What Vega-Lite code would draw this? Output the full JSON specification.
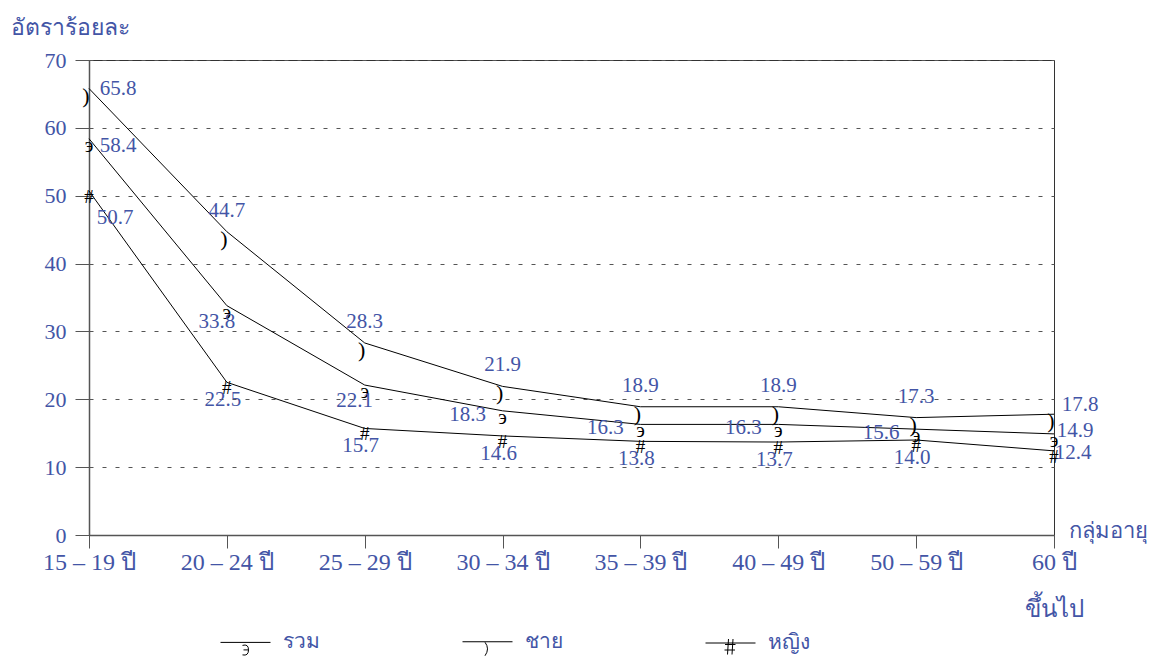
{
  "$schema": "https://vega.github.io/schema/vega-lite/v6.json",
  "autosize": "none",
  "padding": {"left": 89, "top": 60, "right": 110, "bottom": 122},
  "width": 965,
  "height": 475,
  "background": "white",
  "data": {
    "values": [
      {"age": "15 – 19 ปี", "sex": "รวม", "value": 58.4},
      {"age": "20 – 24 ปี", "sex": "รวม", "value": 33.8},
      {"age": "25 – 29 ปี", "sex": "รวม", "value": 22.1},
      {"age": "30 – 34 ปี", "sex": "รวม", "value": 18.3},
      {"age": "35 – 39 ปี", "sex": "รวม", "value": 16.3},
      {"age": "40 – 49 ปี", "sex": "รวม", "value": 16.3},
      {"age": "50 – 59 ปี", "sex": "รวม", "value": 15.6},
      {"age": "60 ปี", "sex": "รวม", "value": 14.9},
      {"age": "15 – 19 ปี", "sex": "ชาย", "value": 65.8},
      {"age": "20 – 24 ปี", "sex": "ชาย", "value": 44.7},
      {"age": "25 – 29 ปี", "sex": "ชาย", "value": 28.3},
      {"age": "30 – 34 ปี", "sex": "ชาย", "value": 21.9},
      {"age": "35 – 39 ปี", "sex": "ชาย", "value": 18.9},
      {"age": "40 – 49 ปี", "sex": "ชาย", "value": 18.9},
      {"age": "50 – 59 ปี", "sex": "ชาย", "value": 17.3},
      {"age": "60 ปี", "sex": "ชาย", "value": 17.8},
      {"age": "15 – 19 ปี", "sex": "หญิง", "value": 50.7},
      {"age": "20 – 24 ปี", "sex": "หญิง", "value": 22.5},
      {"age": "25 – 29 ปี", "sex": "หญิง", "value": 15.7},
      {"age": "30 – 34 ปี", "sex": "หญิง", "value": 14.6},
      {"age": "35 – 39 ปี", "sex": "หญิง", "value": 13.8},
      {"age": "40 – 49 ปี", "sex": "หญิง", "value": 13.7},
      {"age": "50 – 59 ปี", "sex": "หญิง", "value": 14.0},
      {"age": "60 ปี", "sex": "หญิง", "value": 12.4}
    ]
  },
  "encoding": {
    "x": {
      "field": "age", "type": "ordinal", "sort": null,
      "scale": {"type": "point", "padding": 0},
      "axis": {
        "labelAngle": 0, "tickSize": 13, "labelPadding": 2, "labelFontSize": 24,
        "labelColor": "#4355A6", "labelFont": "Liberation Serif", "labelLineHeight": 47,
        "labelExpr": "datum.value == '60 ปี' ? ['60 ปี', 'ขึ้นไป'] : datum.label",
        "domainColor": "#555", "domainWidth": 1.5, "tickColor": "#555", "grid": false,
        "title": "กลุ่มอายุ", "titleX": 979, "titleY": -5, "titleAlign": "left", "titleBaseline": "middle",
        "titleFontSize": 22, "titleFontWeight": "normal", "titleColor": "#4355A6", "titleFont": "Liberation Serif"
      }
    },
    "y": {
      "field": "value", "type": "quantitative",
      "scale": {"domain": [0, 70], "nice": false},
      "axis": {
        "values": [0, 10, 20, 30, 40, 50, 60, 70], "tickSize": 14, "labelPadding": 9,
        "labelFontSize": 22, "labelColor": "#4355A6", "labelFont": "Liberation Serif",
        "domainColor": "#555", "domainWidth": 1.5, "tickColor": "#555",
        "grid": true, "gridDash": [4, 9], "gridColor": "#555",
        "title": "อัตราร้อยละ", "titleAngle": 0, "titleX": -79, "titleY": -33, "titleAlign": "left",
        "titleBaseline": "middle", "titleFontSize": 23, "titleFontWeight": "normal",
        "titleColor": "#4355A6", "titleFont": "Liberation Serif"
      }
    }
  },
  "layer": [
    {
      "mark": {"type": "line", "color": "black", "strokeWidth": 1},
      "encoding": {"detail": {"field": "sex"}}
    },
    {
      "mark": {"type": "point", "filled": false, "color": "black", "opacity": 0, "size": 2500, "strokeWidth": 1},
      "encoding": {
        "shape": {
          "field": "sex", "type": "nominal",
          "scale": {
            "domain": ["รวม", "ชาย", "หญิง"],
            "range": [
              "M-1,0H1M-0.12,0.12Q0.12,0.05 0.12,0.3Q0.12,0.55 -0.12,0.5M-0.08,0.3H0.12",
              "M-1,0H1M-0.1,0.02Q0.1,0.28 -0.1,0.56",
              "M-1,0H1M-0.08,-0.16L-0.12,0.46M0.1,-0.16L0.06,0.46M-0.22,0.06H0.2M-0.24,0.28H0.18"
            ]
          },
          "legend": {
            "title": null, "orient": "none", "direction": "horizontal",
            "legendX": 131, "legendY": 556, "padding": 0,
            "symbolOpacity": 1, "symbolSize": 2500, "symbolStrokeColor": "black", "symbolStrokeWidth": 1,
            "symbolFillColor": "transparent",
            "labelOffset": 12, "columnPadding": 140, "labelFontSize": 21, "labelColor": "#4355A6",
            "labelFont": "Liberation Serif", "labelLimit": 200
          }
        }
      }
    },
    {
      "transform": [{"filter": "datum.sex == 'รวม'"}],
      "mark": {"type": "text", "text": "э", "dy": 7, "fontSize": 20, "font": "Liberation Serif", "color": "black"}
    },
    {
      "transform": [{"filter": "datum.sex == 'ชาย'"}],
      "mark": {"type": "text", "text": ")", "dx": -3, "dy": 7, "fontSize": 22, "font": "Liberation Serif", "color": "black"}
    },
    {
      "transform": [{"filter": "datum.sex == 'หญิง'"}],
      "mark": {"type": "text", "text": "#", "dy": 6, "fontSize": 19, "font": "Liberation Serif", "color": "black"}
    },
    {
      "transform": [{"filter": "datum.sex == 'ชาย' && datum.age == '15 – 19 ปี'"}],
      "mark": {"type": "text", "dx": 29, "dy": 0, "fontSize": 21, "font": "Liberation Serif", "color": "#4355A6"},
      "encoding": {"text": {"field": "value", "format": ".1f"}}
    },
    {
      "transform": [{"filter": "datum.sex == 'ชาย' && datum.age != '15 – 19 ปี' && datum.age != '60 ปี'"}],
      "mark": {"type": "text", "dx": 0, "dy": -21, "fontSize": 21, "font": "Liberation Serif", "color": "#4355A6"},
      "encoding": {"text": {"field": "value", "format": ".1f"}}
    },
    {
      "transform": [{"filter": "datum.sex == 'ชาย' && datum.age == '60 ปี'"}],
      "mark": {"type": "text", "dx": 26, "dy": -9, "fontSize": 21, "font": "Liberation Serif", "color": "#4355A6"},
      "encoding": {"text": {"field": "value", "format": ".1f"}}
    },
    {
      "transform": [{"filter": "datum.sex == 'รวม' && datum.age == '15 – 19 ปี'"}],
      "mark": {"type": "text", "dx": 29, "dy": 7, "fontSize": 21, "font": "Liberation Serif", "color": "#4355A6"},
      "encoding": {"text": {"field": "value", "format": ".1f"}}
    },
    {
      "transform": [{"filter": "datum.sex == 'รวม' && (datum.age == '20 – 24 ปี' || datum.age == '25 – 29 ปี')"}],
      "mark": {"type": "text", "dx": -10, "dy": 16, "fontSize": 21, "font": "Liberation Serif", "color": "#4355A6"},
      "encoding": {"text": {"field": "value", "format": ".1f"}}
    },
    {
      "transform": [{"filter": "datum.sex == 'รวม' && (datum.age == '30 – 34 ปี' || datum.age == '35 – 39 ปี' || datum.age == '40 – 49 ปี' || datum.age == '50 – 59 ปี')"}],
      "mark": {"type": "text", "dx": -35, "dy": 4, "fontSize": 21, "font": "Liberation Serif", "color": "#4355A6"},
      "encoding": {"text": {"field": "value", "format": ".1f"}}
    },
    {
      "transform": [{"filter": "datum.sex == 'รวม' && datum.age == '60 ปี'"}],
      "mark": {"type": "text", "dx": 21, "dy": -3, "fontSize": 21, "font": "Liberation Serif", "color": "#4355A6"},
      "encoding": {"text": {"field": "value", "format": ".1f"}}
    },
    {
      "transform": [{"filter": "datum.sex == 'หญิง' && datum.age == '15 – 19 ปี'"}],
      "mark": {"type": "text", "dx": 26, "dy": 27, "fontSize": 21, "font": "Liberation Serif", "color": "#4355A6"},
      "encoding": {"text": {"field": "value", "format": ".1f"}}
    },
    {
      "transform": [{"filter": "datum.sex == 'หญิง' && datum.age != '15 – 19 ปี' && datum.age != '60 ปี'"}],
      "mark": {"type": "text", "dx": -4, "dy": 18, "fontSize": 21, "font": "Liberation Serif", "color": "#4355A6"},
      "encoding": {"text": {"field": "value", "format": ".1f"}}
    },
    {
      "transform": [{"filter": "datum.sex == 'หญิง' && datum.age == '60 ปี'"}],
      "mark": {"type": "text", "dx": 19, "dy": 2, "fontSize": 21, "font": "Liberation Serif", "color": "#4355A6"},
      "encoding": {"text": {"field": "value", "format": ".1f"}}
    }
  ],
  "config": {
    "view": {"stroke": "#333", "strokeWidth": 1},
    "font": "Liberation Serif"
  }
}
